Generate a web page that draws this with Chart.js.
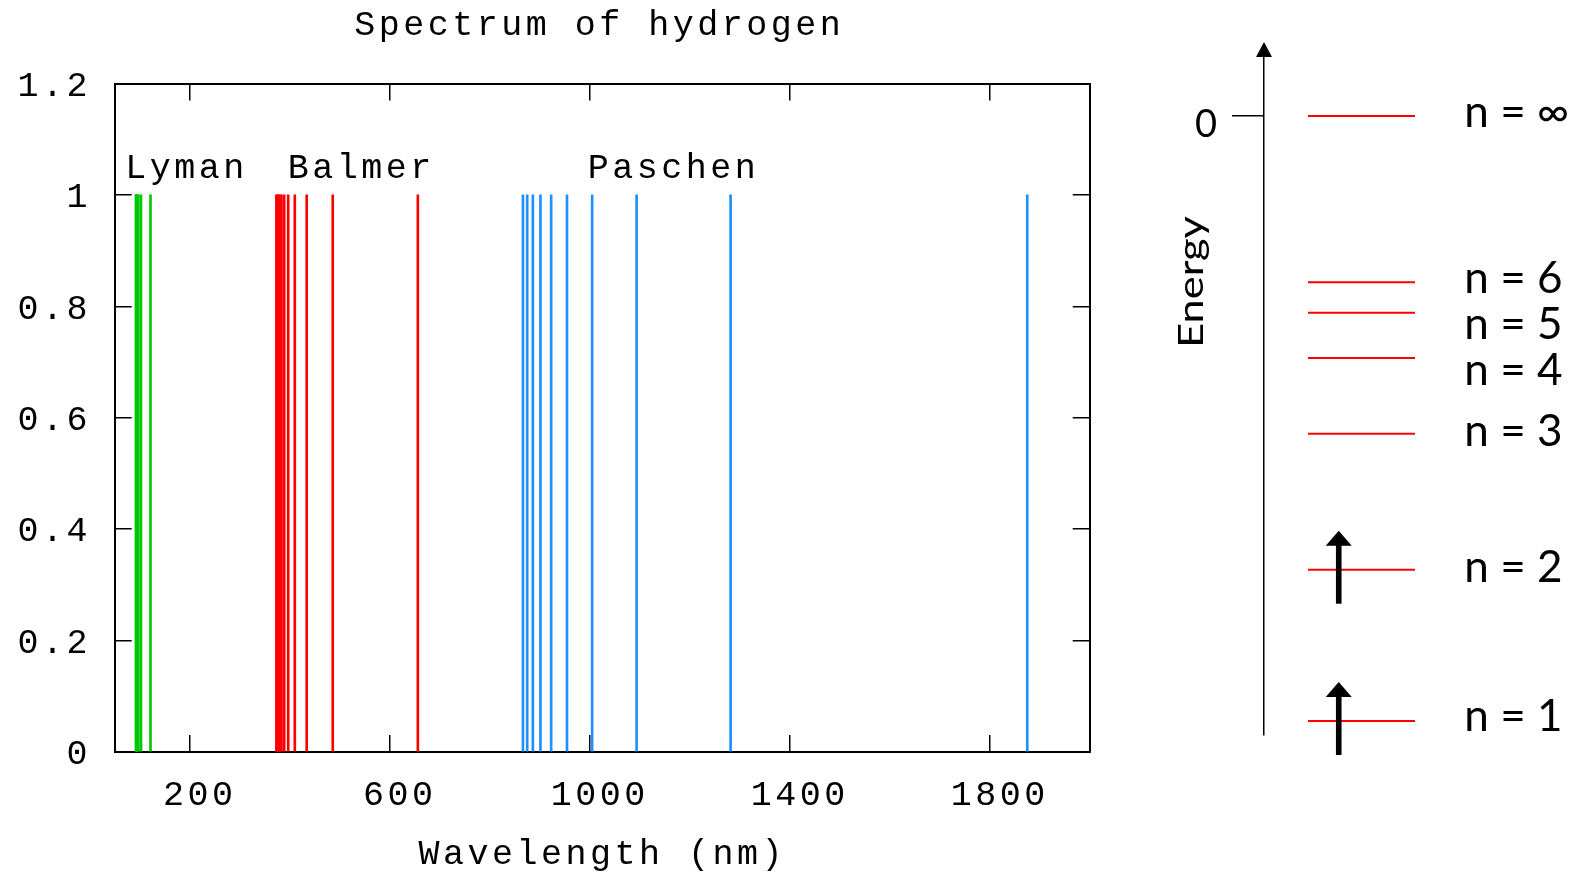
<!DOCTYPE html>
<html>
<head>
<meta charset="utf-8">
<title>Spectrum of hydrogen</title>
<script src="https://cdn.jsdelivr.net/npm/chart.js@4.4.1/dist/chart.umd.min.js"></script>
<style>
  html, body { margin: 0; padding: 0; background: #fff; }
  #wrap { position: relative; width: 1578px; height: 874px; }
  #spectrum { position: absolute; left: 0; top: 0; }
  #levels { position: absolute; left: 1140px; top: 0; }
</style>
</head>
<body>
<div id="wrap">
  <canvas id="spectrum" width="1200" height="874"></canvas>
  <canvas id="levels" width="438" height="874"></canvas>
</div>
<script>
// line wavelengths (nm), all drawn at height 1
const lyman = [121.6, 102.6, 97.3, 95.0, 93.8, 93.1, 92.6];
const balmer = [656.3, 486.1, 434.0, 410.2, 397.0, 388.9, 383.5, 379.8, 377.1, 375.0, 373.4];
const paschen = [1875.1, 1281.8, 1093.8, 1004.9, 954.6, 922.9, 901.5, 886.3, 875.0, 866.5];
const intensity = 1;
const seriesNames = ['Lyman', 'Balmer', 'Paschen'];
const nameAt = [71, 396, 996];   // wavelength where each name starts
const nameHeight = 1.053;
const xTicks = [200, 600, 1000, 1400, 1800];
const yTicks = [0, 0.2, 0.4, 0.6, 0.8, 1, 1.2];

// energy level diagram (arbitrary units, 0 = n = infinity)
const levelNames = ['∞', '6', '5', '4', '3', '2', '1'];
const levelEnergy = [0, -1.663, -1.967, -2.42, -3.177, -4.537, -6.05];
const labelEnergy = [0.05, -1.61, -2.07, -2.53, -3.14, -4.5, -5.995];
const occupied = ['2', '1'];

const colors = ['rgb(0,200,0)', 'rgb(255,0,0)', 'rgb(30,144,255)'];
const gnuFont = { family: '"Liberation Mono", "DejaVu Sans Mono", monospace', size: 35, weight: 'normal' };
const gnuTitleFont = { family: gnuFont.family, size: 35, weight: 'normal', lineHeight: 1 };

function series(list, color, name) {
  return {
    label: name,
    data: list.map(w => ({ x: w, y: intensity })),
    backgroundColor: color,
    borderWidth: 0,
    barThickness: 2,
    grouped: false
  };
}

// gnuplot's vector font is widely spaced
const spacing = {
  id: 'spacing',
  beforeUpdate(chart) { chart.ctx.letterSpacing = '3.5px'; },
  beforeDraw(chart) { chart.ctx.letterSpacing = '3.5px'; }
};

const seriesLabels = {
  id: 'seriesLabels',
  afterDatasetsDraw(chart) {
    const ctx = chart.ctx;
    const xs = chart.scales.x, ys = chart.scales.y;
    ctx.save();
    ctx.font = gnuFont.size + 'px ' + gnuFont.family;
    ctx.fillStyle = '#000';
    ctx.textAlign = 'left';
    ctx.textBaseline = 'alphabetic';
    seriesNames.forEach((n, i) => {
      ctx.fillText(n, xs.getPixelForValue(nameAt[i]), ys.getPixelForValue(nameHeight) + 12.5);
    });
    ctx.restore();
  }
};

const inwardGrid = { drawOnChartArea: false, offset: false, tickLength: -17, color: '#000', lineWidth: 1.5 };
const frame = { color: '#000', width: 2 };
const setX = s => { s.ticks = xTicks.map(v => ({ value: v })); };
const setY = s => { s.ticks = yTicks.map(v => ({ value: v })); };

new Chart(document.getElementById('spectrum'), {
  type: 'bar',
  data: {
    datasets: [
      series(lyman, colors[0], 'Lyman'),
      series(balmer, colors[1], 'Balmer'),
      series(paschen, colors[2], 'Paschen')
    ]
  },
  options: {
    responsive: false,
    animation: false,
    devicePixelRatio: 1,
    layout: { padding: { left: 0, right: 1.5, top: 0, bottom: 0 } },
    plugins: {
      legend: { display: false },
      tooltip: { enabled: false },
      title: {
        display: true,
        text: 'Spectrum of hydrogen',
        font: gnuFont,
        color: '#000',
        padding: { top: 4.8, bottom: 36.7 }
      }
    },
    scales: {
      x: {
        type: 'linear', min: 50, max: 2000, offset: false,
        afterBuildTicks: setX,
        afterFit: s => { s.height = 122; },
        grid: inwardGrid,
        border: frame,
        ticks: { font: gnuFont, color: '#000', padding: 40.2, labelOffset: 10, maxRotation: 0, autoSkip: false, callback: v => String(v) },
        title: { display: true, text: 'Wavelength (nm)', font: gnuTitleFont, color: '#000', padding: { top: 0, bottom: 1.3 } }
      },
      x2: {
        type: 'linear', position: 'top', min: 50, max: 2000, offset: false,
        afterBuildTicks: setX,
        afterFit: s => { s.height = 0; },
        grid: inwardGrid,
        border: frame,
        ticks: { display: false }
      },
      y: {
        type: 'linear', min: 0, max: 1.2,
        afterBuildTicks: setY,
        afterFit: s => { s.width = 114.7; },
        grid: inwardGrid,
        border: frame,
        ticks: { font: gnuFont, color: '#000', padding: 40.7, labelOffset: 3, autoSkip: false, callback: v => String(v) }
      },
      y2: {
        type: 'linear', position: 'right', min: 0, max: 1.2,
        afterBuildTicks: setY,
        afterFit: s => { s.width = 108.8; },
        grid: inwardGrid,
        border: frame,
        ticks: { display: false }
      }
    }
  },
  plugins: [spacing, seriesLabels]
});

// energy level panel
const diagramExtras = {
  id: 'diagramExtras',
  afterDraw(chart) {
    const { ctx, chartArea } = chart;
    const xs = chart.scales.x, ys = chart.scales.y;
    ctx.save();
    ctx.fillStyle = '#000';

    // arrow head on the energy axis
    const ax = ys.right;
    ctx.beginPath();
    ctx.moveTo(ax, chartArea.top - 15);
    ctx.lineTo(ax - 8, chartArea.top);
    ctx.lineTo(ax + 8, chartArea.top);
    ctx.closePath();
    ctx.fill();

    // axis name (stretched like the original)
    ctx.save();
    ctx.translate(63, 282);
    ctx.rotate(-Math.PI / 2);
    ctx.scale(1.24, 1);
    ctx.font = '35px Lato';
    ctx.textAlign = 'center';
    ctx.textBaseline = 'alphabetic';
    ctx.fillText('Energy', 0, 0);
    ctx.restore();

    // level names
    ctx.font = '44px Lato';
    ctx.textAlign = 'left';
    ctx.textBaseline = 'alphabetic';
    levelNames.forEach((n, i) => {
      ctx.fillText('n = ' + n, xs.getPixelForValue(0.638), ys.getPixelForValue(labelEnergy[i]) + 15.8);
    });

    // electrons on the occupied levels
    const cx = xs.getPixelForValue(0.238);
    occupied.forEach(n => {
      const y0 = ys.getPixelForValue(levelEnergy[levelNames.indexOf(n)]);
      ctx.fillRect(cx - 2.8, y0 - 25, 5.6, 59);
      ctx.beginPath();
      ctx.moveTo(cx, y0 - 39);
      ctx.lineTo(cx - 13, y0 - 24);
      ctx.lineTo(cx + 13, y0 - 24);
      ctx.closePath();
      ctx.fill();
    });
    ctx.restore();
  }
};

new Chart(document.getElementById('levels'), {
  type: 'line',
  data: {
    datasets: levelEnergy.map((e, i) => ({
      label: 'n = ' + levelNames[i],
      data: [{ x: 0.14, y: e }, { x: 0.481, y: e }],
      borderColor: 'rgb(255,0,0)',
      borderWidth: 2,
      pointRadius: 0
    }))
  },
  options: {
    responsive: false,
    animation: false,
    devicePixelRatio: 1,
    layout: { padding: { top: 57, bottom: 139, left: 0, right: 0 } },
    plugins: { legend: { display: false }, tooltip: { enabled: false } },
    scales: {
      x: { type: 'linear', min: 0, max: 1, display: false },
      y: {
        type: 'linear', min: -6.19, max: 0.59,
        afterBuildTicks: s => { s.ticks = [{ value: 0 }]; },
        afterFit: s => { s.width = 124; },
        grid: { drawOnChartArea: false, tickLength: 32, color: '#000', lineWidth: 1.5 },
        border: { color: '#000', width: 1.5 },
        ticks: { font: { family: 'Lato', size: 38 }, color: '#000', padding: 15, labelOffset: 9 }
      }
    }
  },
  plugins: [diagramExtras]
});
</script>
</body>
</html>
